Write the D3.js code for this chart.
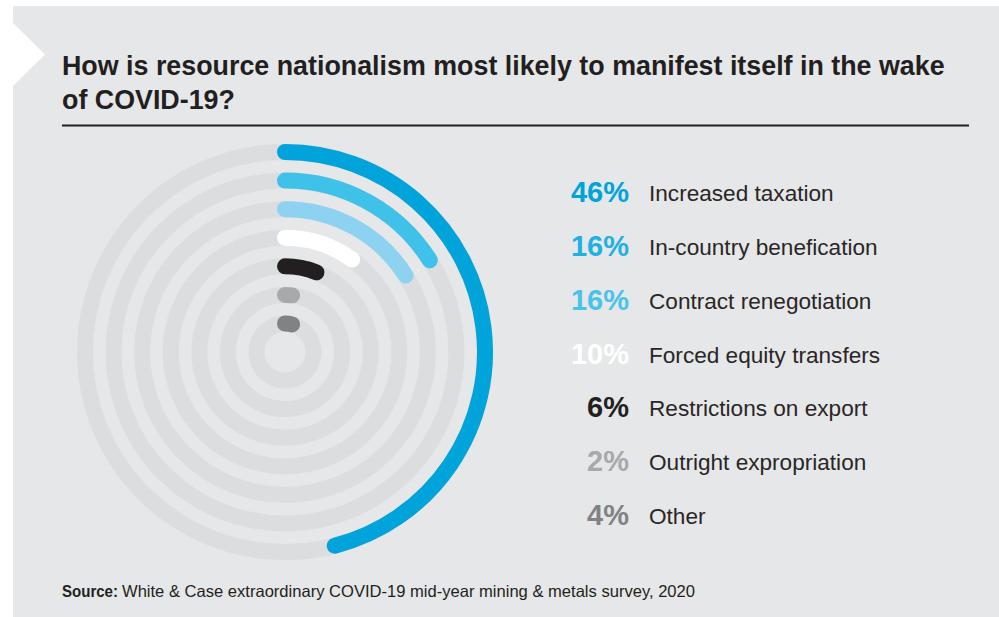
<!DOCTYPE html>
<html>
<head>
<meta charset="utf-8">
<script src="https://cdn.jsdelivr.net/npm/d3@7"></script>
<style>
  html, body { margin: 0; padding: 0; background: #ffffff; }
  svg { display: block; }
</style>
</head>
<body>
<svg id="chart" width="999" height="617"></svg>
<script>
// Survey answers, outermost ring first
const categories = [
  "Increased taxation",
  "In-country benefication",
  "Contract renegotiation",
  "Forced equity transfers",
  "Restrictions on export",
  "Outright expropriation",
  "Other"
];
const values = [46, 16, 16, 10, 6, 2, 4];
const barColors = ["#00a3da", "#40c1e9", "#8dd3f1", "#ffffff", "#231f20", "#a7a9ac", "#808285"];
const labelColors = ["#00a3da", "#1db1e4", "#48c4eb", "#ffffff", "#231f20", "#a7a9ac", "#808285"];

const titleLines = [
  "How is resource nationalism most likely to manifest itself in the wake",
  "of COVID-19?"
];
const sourceLabel = "Source:";
const sourceText = "White & Case extraordinary COVID-19 mid-year mining & metals survey, 2020";

const svg = d3.select("#chart");
const FONT = "'Liberation Sans', Arial, Helvetica, sans-serif";
const NARROW = "'Liberation Sans Narrow', 'Liberation Sans', Arial, sans-serif";

// Panel background with the white chevron notch
svg.append("rect")
  .attr("x", 13).attr("y", 6).attr("width", 986).attr("height", 611)
  .attr("fill", "#e6e7e8");
svg.append("polygon")
  .attr("points", "13,23 45,54.5 13,86")
  .attr("fill", "#ffffff");

// Title
const title = svg.append("text")
  .attr("font-family", FONT)
  .attr("font-weight", "bold")
  .attr("font-size", 25)
  .attr("fill", "#231f20");
title.selectAll("tspan")
  .data(titleLines)
  .join("tspan")
  .attr("x", 62)
  .attr("y", (d, i) => 75 + i * 34)
  .text(d => d);
// keep the first line's width to the rule width
const firstLine = title.select("tspan").node();
const w0 = firstLine.getComputedTextLength();
if (w0 > 0) {
  const fs = 25 * 883 / w0;
  title.attr("font-size", fs);
}

svg.append("line")
  .attr("x1", 62).attr("x2", 969)
  .attr("y1", 125.5).attr("y2", 125.5)
  .attr("stroke", "#231f20")
  .attr("stroke-width", 2);

// Radial bars
const cx = 285, cy = 352;
const rScale = d3.scalePoint().domain(categories).range([200, 28.5]);
const angle = d3.scaleLinear().domain([0, 100]).range([0, 2 * Math.PI]);
const barWidth = 16;

const radial = svg.append("g");

radial.selectAll("circle.track")
  .data(categories)
  .join("circle")
  .attr("class", "track")
  .attr("cx", cx).attr("cy", cy)
  .attr("r", d => rScale(d))
  .attr("fill", "none")
  .attr("stroke", "#dcddde")
  .attr("stroke-width", barWidth);

function arcPath(cat, v) {
  const r = rScale(cat);
  const a0 = -Math.PI / 2;
  const a1 = a0 + angle(v);
  const p = d3.path();
  p.moveTo(cx + r * Math.cos(a0), cy + r * Math.sin(a0));
  p.arc(cx, cy, r, a0, a1);
  return p.toString();
}

radial.selectAll("path.bar")
  .data(categories)
  .join("path")
  .attr("class", "bar")
  .attr("d", (d, i) => arcPath(d, values[i]))
  .attr("fill", "none")
  .attr("stroke", (d, i) => barColors[i])
  .attr("stroke-width", barWidth)
  .attr("stroke-linecap", "round");

// Legend
const rowY = d3.scalePoint().domain(categories).range([201, 524]);
const legend = svg.append("g");
const rows = legend.selectAll("g.row")
  .data(categories)
  .join("g")
  .attr("class", "row")
  .attr("transform", d => `translate(0,${rowY(d)})`);

rows.append("text")
  .attr("x", 629)
  .attr("y", 1)
  .attr("text-anchor", "end")
  .attr("font-family", FONT)
  .attr("font-weight", "bold")
  .attr("font-size", 29)
  .attr("fill", (d, i) => labelColors[i])
  .text((d, i) => values[i] + "%");

rows.append("text")
  .attr("x", 649)
  .attr("font-family", FONT)
  .attr("font-size", 22.6)
  .attr("fill", "#2a2627")
  .text(d => d);

// Source note
const src = svg.append("text")
  .attr("y", 597)
  .attr("font-family", NARROW)
  .attr("font-size", 16.5)
  .attr("fill", "#231f20");
src.append("tspan")
  .attr("x", 62)
  .attr("font-weight", "bold")
  .attr("textLength", 56)
  .attr("lengthAdjust", "spacingAndGlyphs")
  .text(sourceLabel);
src.append("tspan")
  .attr("x", 122)
  .attr("textLength", 573)
  .attr("lengthAdjust", "spacingAndGlyphs")
  .text(sourceText);
</script>
</body>
</html>
